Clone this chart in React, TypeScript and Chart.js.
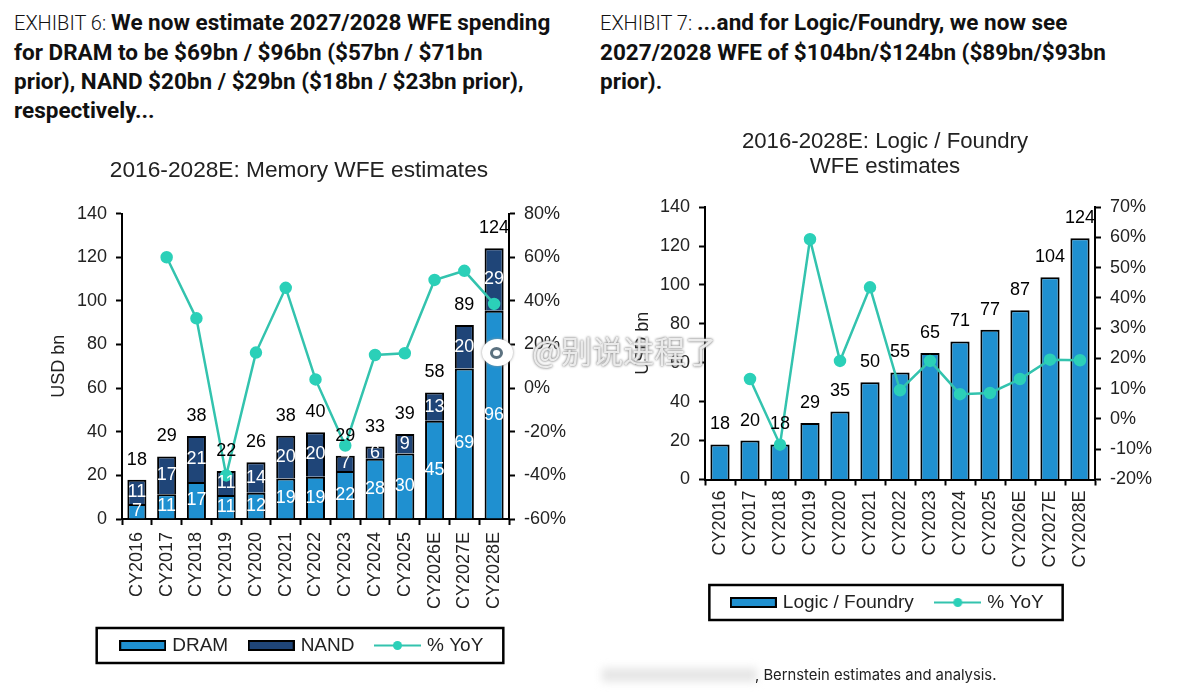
import React, { useEffect, useRef } from "react";
import { Chart, registerables } from "chart.js";

Chart.register(...registerables);

const categories = [
  "CY2016", "CY2017", "CY2018", "CY2019", "CY2020", "CY2021", "CY2022",
  "CY2023", "CY2024", "CY2025", "CY2026E", "CY2027E", "CY2028E",
];

// memory chart
const dram = [6.9, 11.3, 17, 11, 12, 18.6, 19.4, 22, 27.6, 30, 45, 69, 95.5];
const nand = [11.1, 17.4, 21, 11, 14, 19.6, 20.4, 7, 5.6, 9, 13, 20, 28.6];
const memoryYoy = [null, 60, 32, -40, 16.3, 46, 4, -26.3, 15.2, 16, 49.6, 53.8, 38.6];

// logic chart
const logicFoundry = [18, 20, 18, 29, 35, 50, 55, 65, 71, 77, 87, 104, 124];
const logicYoy = [null, 13.2, -8.5, 59.4, 19.2, 43.5, 9.5, 19.2, 8.2, 8.6, 13.2, 19.6, 19.4];

const BLUE = "#1f90d0";
const NAVY = "#1f4578";
const TEAL = "#33c3ae";
const DOT = "#2bd0b8";
const FONT = "'Liberation Sans', Arial, sans-serif";

// legend icons, the built in ones have no wide box or line with a dot
const barIcon = (color: string) => {
  const c = document.createElement("canvas");
  c.width = 47;
  c.height = 11;
  const ctx = c.getContext("2d")!;
  ctx.fillStyle = color;
  ctx.fillRect(0, 0, 47, 11);
  ctx.strokeStyle = "#000";
  ctx.lineWidth = 2;
  ctx.strokeRect(1, 1, 45, 9);
  return c;
};

const lineIcon = () => {
  const c = document.createElement("canvas");
  c.width = 47;
  c.height = 11;
  const ctx = c.getContext("2d")!;
  ctx.strokeStyle = TEAL;
  ctx.lineWidth = 2;
  ctx.beginPath();
  ctx.moveTo(0, 5.5);
  ctx.lineTo(47, 5.5);
  ctx.stroke();
  ctx.fillStyle = DOT;
  ctx.beginPath();
  ctx.arc(23.5, 5.5, 4.5, 0, Math.PI * 2);
  ctx.fill();
  return c;
};

// white values inside the segments, black totals on top of the stacks
const barLabels = {
  id: "barLabels",
  afterDatasetsDraw(chart: any, _args: any, opts: any) {
    const ctx = chart.ctx;
    const barSets = chart.data.datasets
      .map((ds: any, i: number) => ({ ds, meta: chart.getDatasetMeta(i) }))
      .filter((s: any) => s.ds.type === "bar");
    ctx.save();
    ctx.font = `18px ${FONT}`;
    ctx.textAlign = "center";
    ctx.textBaseline = "middle";
    if (opts.inner) {
      ctx.fillStyle = "#fff";
      barSets.forEach(({ ds, meta }: any) => {
        meta.data.forEach((bar: any, i: number) => {
          ctx.fillText(String(Math.round(ds.data[i])), bar.x, (bar.y + bar.base) / 2);
        });
      });
    }
    ctx.fillStyle = "#000";
    const top = barSets[barSets.length - 1].meta;
    top.data.forEach((bar: any, i: number) => {
      const total = barSets.reduce((sum: number, s: any) => sum + s.ds.data[i], 0);
      ctx.fillText(String(Math.round(total)), bar.x, bar.y - 20);
    });
    ctx.restore();
  },
};

// box around the legend, which also sits a little off the canvas centre
const legendFrame = {
  id: "legendFrame",
  afterLayout(chart: any, _args: any, opts: any) {
    chart.legend.left += opts.shift;
    chart.legend.right += opts.shift;
  },
  afterDraw(chart: any, _args: any, opts: any) {
    const boxes = chart.legend.legendHitBoxes;
    if (!boxes.length) return;
    const first = boxes[0];
    const last = boxes[boxes.length - 1];
    const midY = first.top + first.height / 2;
    const ctx = chart.ctx;
    ctx.save();
    ctx.strokeStyle = "#000";
    ctx.lineWidth = 2.5;
    ctx.strokeRect(
      first.left - opts.padLeft,
      midY - 17.5,
      last.left + last.width - first.left + opts.padLeft + opts.padRight,
      35
    );
    ctx.restore();
  },
};

interface WfeChartProps {
  left: number;
  top: number;
  width: number;
  height: number;
  title: string | string[];
  titleSize: number;
  titlePadding: { top: number; bottom: number };
  datasets: any[];
  icons: HTMLCanvasElement[];
  inner: boolean;
  yMin2: number;
  yMax2: number;
  step2: number;
  leftWidth: number;
  rightWidth: number;
  xHeight: number;
  xPad: number;
  unitPad: number;
  framePad: { padLeft: number; padRight: number; shift: number };
  itemGap: number;
}

const WfeChart: React.FC<WfeChartProps> = (p) => {
  const canvasRef = useRef<HTMLCanvasElement | null>(null);

  useEffect(() => {
    if (!canvasRef.current) return;
    const chart = new Chart(canvasRef.current, {
      type: "bar",
      data: { labels: categories, datasets: p.datasets },
      plugins: [barLabels, legendFrame],
      options: {
        responsive: false,
        animation: false,
        font: { family: FONT, size: 18 },
        plugins: {
          title: {
            display: true,
            text: p.title,
            color: "#222",
            font: { family: FONT, size: p.titleSize, weight: "normal", lineHeight: 1.13 },
            padding: p.titlePadding,
          },
          legend: {
            position: "bottom",
            onClick: () => {},
            labels: {
              color: "#222",
              font: { family: FONT, size: 19 },
              usePointStyle: true,
              pointStyleWidth: 40,
              boxHeight: 11,
              padding: p.itemGap,
              generateLabels: (chart: any) =>
                chart.data.datasets.map((ds: any, i: number) => ({
                  text: ds.label,
                  pointStyle: p.icons[i],
                  datasetIndex: i,
                  fontColor: "#222",
                  hidden: false,
                })),
            },
          },
          tooltip: { enabled: false },
          barLabels: { inner: p.inner },
          legendFrame: p.framePad,
        } as any,
        scales: {
          x: {
            stacked: true,
            grid: { drawOnChartArea: false, tickColor: "#000", tickWidth: 2, tickLength: 6 },
            border: { color: "#000", width: 2 },
            ticks: {
              color: "#222",
              font: { family: FONT, size: 18 },
              autoSkip: false,
              minRotation: 90,
              maxRotation: 90,
              padding: p.xPad,
            },
            afterFit: (scale: any) => {
              scale.height = p.xHeight;
            },
          },
          y: {
            stacked: true,
            min: 0,
            max: 140,
            ticks: { stepSize: 20, color: "#222", font: { family: FONT, size: 18 }, padding: 9 },
            grid: { drawOnChartArea: false, tickColor: "#000", tickWidth: 2, tickLength: 6 },
            border: { color: "#000", width: 2 },
            title: {
              display: true,
              text: "USD bn",
              color: "#222",
              font: { family: FONT, size: 18 },
              padding: { top: p.unitPad, bottom: 0 },
            },
            afterFit: (scale: any) => {
              scale.width = p.leftWidth;
            },
          },
          y2: {
            position: "right",
            min: p.yMin2,
            max: p.yMax2,
            ticks: {
              stepSize: p.step2,
              color: "#222",
              font: { family: FONT, size: 18 },
              padding: 9,
              callback: (v: any) => `${v}%`,
            },
            grid: { drawOnChartArea: false, tickColor: "#000", tickWidth: 2, tickLength: 6 },
            border: { color: "#000", width: 2 },
            afterFit: (scale: any) => {
              scale.width = p.rightWidth;
            },
          },
        },
      } as any,
    });
    return () => chart.destroy();
  }, []);

  return (
    <canvas
      ref={canvasRef}
      width={p.width}
      height={p.height}
      style={{ position: "absolute", left: p.left, top: p.top, width: p.width, height: p.height }}
    />
  );
};

const barSet = (label: string, data: number[], color: string) => ({
  type: "bar",
  label,
  data,
  backgroundColor: color,
  borderColor: "#000",
  borderWidth: 2,
  borderSkipped: "bottom",
  barPercentage: 0.64,
  categoryPercentage: 1,
  yAxisID: "y",
  order: 2,
});

const yoySet = (data: (number | null)[]) => ({
  type: "line",
  label: "% YoY",
  data,
  borderColor: TEAL,
  borderWidth: 2.5,
  pointBackgroundColor: DOT,
  pointBorderColor: DOT,
  pointRadius: 5,
  spanGaps: false,
  tension: 0,
  yAxisID: "y2",
  order: 1,
});

const headingStyle: React.CSSProperties = {
  position: "absolute",
  top: 8,
  fontFamily: "Roboto, sans-serif",
  fontWeight: 700,
  fontSize: 22.5,
  lineHeight: "29px",
  color: "#111",
  whiteSpace: "nowrap",
};

const lightStyle: React.CSSProperties = { fontWeight: 300, fontSize: 20 };

export default function App() {
  return (
    <div
      style={{
        position: "absolute",
        left: 0,
        top: 0,
        width: 1200,
        height: 698,
        overflow: "hidden",
        background: "#fff",
      }}
    >
      <div style={{ ...headingStyle, left: 14 }}>
        <span style={lightStyle}>EXHIBIT 6: </span>We now estimate 2027/2028 WFE spending
        <br />
        for DRAM to be $69bn / $96bn ($57bn / $71bn
        <br />
        prior), NAND $20bn / $29bn ($18bn / $23bn prior),
        <br />
        respectively...
      </div>
      <div style={{ ...headingStyle, left: 600 }}>
        <span style={lightStyle}>EXHIBIT 7: </span>...and for Logic/Foundry, we now see
        <br />
        2027/2028 WFE of $104bn/$124bn ($89bn/$93bn
        <br />
        prior).
      </div>

      <WfeChart
        left={0}
        top={140}
        width={598}
        height={525}
        title="2016-2028E: Memory WFE estimates"
        titleSize={22.7}
        titlePadding={{ top: 18, bottom: 30 }}
        datasets={[barSet("DRAM", dram, BLUE), barSet("NAND", nand, NAVY), yoySet(memoryYoy)]}
        icons={[barIcon(BLUE), barIcon(NAVY), lineIcon()]}
        inner={true}
        yMin2={-60}
        yMax2={80}
        step2={20}
        leftWidth={122}
        rightWidth={89}
        xHeight={94}
        xPad={7}
        unitPad={48}
        framePad={{ padLeft: 26, padRight: 20, shift: 4 }}
        itemGap={23}
      />
      <WfeChart
        left={590}
        top={110}
        width={590}
        height={512}
        title={["2016-2028E: Logic / Foundry", "WFE estimates"]}
        titleSize={22.2}
        titlePadding={{ top: 19, bottom: 28 }}
        datasets={[barSet("Logic / Foundry", logicFoundry, BLUE), yoySet(logicYoy)]}
        icons={[barIcon(BLUE), lineIcon()]}
        inner={false}
        yMin2={-20}
        yMax2={70}
        step2={10}
        leftWidth={115}
        rightWidth={85}
        xHeight={89.5}
        xPad={5}
        unitPad={42}
        framePad={{ padLeft: 24, padRight: 19, shift: 3.5 }}
        itemGap={24}
      />

      {/* repost watermark */}
      <div
        style={{
          position: "absolute",
          left: 482,
          top: 339,
          width: 31,
          height: 27,
          borderRadius: "50%",
          background: "#fff",
          boxShadow: "0 0 3px #999",
        }}
      >
        <div
          style={{
            position: "absolute",
            left: 8,
            top: 8,
            width: 13,
            height: 12,
            borderRadius: "50%",
            background: "#fff",
            border: "3px solid #5c7280",
            boxSizing: "border-box",
          }}
        />
      </div>
      <div
        style={{
          position: "absolute",
          left: 532,
          top: 330,
          fontFamily: "'Noto Sans CJK SC', sans-serif",
          fontSize: 31,
          lineHeight: "40px",
          color: "rgba(255,255,255,0.8)",
          textShadow: "0 0 3px #888, 0 0 2px #999",
          whiteSpace: "nowrap",
        }}
      >
        @别说进程了
      </div>

      {/* blurred part of the source line */}
      <div
        style={{
          position: "absolute",
          left: 602,
          top: 668,
          width: 155,
          height: 14,
          background: "#e6e6e6",
          filter: "blur(4px)",
        }}
      />
      <div
        style={{
          position: "absolute",
          left: 755,
          top: 666,
          fontFamily: "Inter, sans-serif",
          fontSize: 14.8,
          lineHeight: "18px",
          color: "#222",
          whiteSpace: "nowrap",
        }}
      >
        , Bernstein estimates and analysis.
      </div>
    </div>
  );
}
